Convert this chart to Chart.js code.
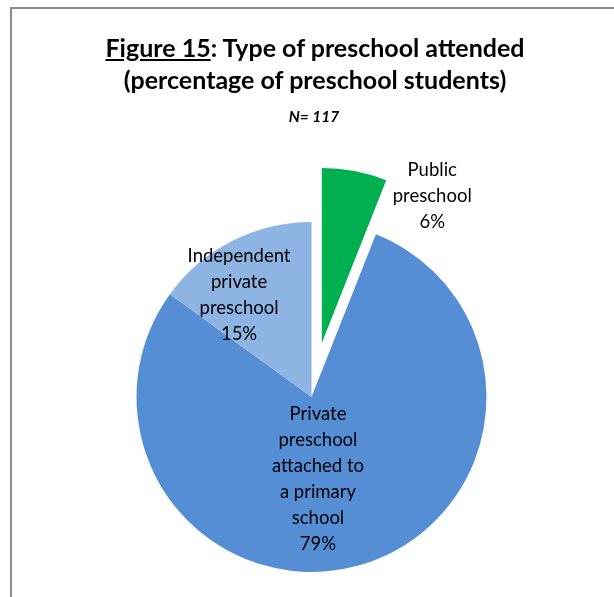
<!DOCTYPE html>
<html>
<head>
<meta charset="utf-8">
<script src="https://cdn.jsdelivr.net/npm/chart.js@4.4.0/dist/chart.umd.min.js"></script>
<style>
  html, body { margin: 0; padding: 0; background: #fff; overflow: hidden; }
  body { width: 614px; height: 597px; position: relative; font-family: Lato, "Open Sans", sans-serif; }
  .frame { position: absolute; left: 10px; top: 7px; width: 700px; height: 700px;
           border-top: 2px solid #8c8c8c; border-left: 2px solid #8c8c8c; }
  .title { position: absolute; left: 0; width: 630px; text-align: center; top: 31px;
           font-weight: bold; font-size: 25px; line-height: 32px; color: #000; }
  .sub { position: absolute; left: 0; width: 628px; text-align: center; top: 107px;
         font-weight: bold; font-style: italic; font-size: 15.5px; color: #000; }
  #wrap { position: absolute; left: 0; top: 0; width: 614px; height: 800px; }
</style>
</head>
<body>
<div class="frame"></div>
<div id="wrap"><canvas id="pieChart"></canvas></div>
<div class="title"><u>Figure 15</u>: Type of preschool attended<br>(percentage of preschool students)</div>
<div class="sub">N= 117</div>
<script>
// Data
const categories = ['Public preschool', 'Private preschool attached to a primary school', 'Independent private preschool'];
const percentages = [6, 79, 15];
const labelLines = [
  ['Public', 'preschool'],
  ['Private', 'preschool', 'attached to', 'a primary', 'school'],
  ['Independent', 'private', 'preschool']
];
const sliceColors = ['#00B050', '#558ED5', '#8EB4E3'];
// how far each slice is pulled out of the pie (px)
const explode = [55, 0, 0];
// label anchor relative to pie centre, in units of radius
const labelAnchors = [[0.69, -1.15], [0.037, 0.47], [-0.414, -0.585]];

// Pull slices out the way the source chart does (shift only, same radius)
const explodeSlices = {
  id: 'explodeSlices',
  beforeDatasetsDraw(chart) {
    const cx = chart.chartArea.left + chart.chartArea.width / 2;
    const cy = chart.chartArea.top + chart.chartArea.height / 2;
    chart.getDatasetMeta(0).data.forEach((arc, i) => {
      const mid = (arc.startAngle + arc.endAngle) / 2;
      arc.x = cx + Math.cos(mid) * explode[i];
      arc.y = cy + Math.sin(mid) * explode[i];
    });
  }
};

// Draw slice labels from the arc geometry
const sliceLabels = {
  id: 'sliceLabels',
  afterDatasetsDraw(chart) {
    const ctx = chart.ctx;
    const meta = chart.getDatasetMeta(0);
    ctx.save();
    ctx.font = '18.5px Lato, "Open Sans", sans-serif';
    ctx.fillStyle = '#000';
    ctx.textAlign = 'center';
    ctx.textBaseline = 'middle';
    const lineH = 26;
    const cx = chart.chartArea.left + chart.chartArea.width / 2;
    const cy = chart.chartArea.top + chart.chartArea.height / 2;
    meta.data.forEach((arc, i) => {
      const r = arc.outerRadius;
      const lines = labelLines[i].concat([percentages[i] + '%']);
      const x = cx + labelAnchors[i][0] * r;
      const y = cy + labelAnchors[i][1] * r;
      const y0 = y - (lines.length - 1) * lineH / 2;
      lines.forEach((t, k) => ctx.fillText(t, x, y0 + k * lineH));
    });
    ctx.restore();
  }
};

new Chart(document.getElementById('pieChart'), {
  type: 'pie',
  data: {
    labels: categories,
    datasets: [{
      data: percentages,
      backgroundColor: sliceColors,
      borderWidth: 0
    }]
  },
  options: {
    responsive: true,
    maintainAspectRatio: false,
    animation: false,
    layout: { padding: { left: 136.5, right: 127.5, top: 222, bottom: 228 } },
    plugins: {
      legend: { display: false },
      tooltip: { enabled: false }
    }
  },
  plugins: [explodeSlices, sliceLabels]
});
</script>
</body>
</html>
